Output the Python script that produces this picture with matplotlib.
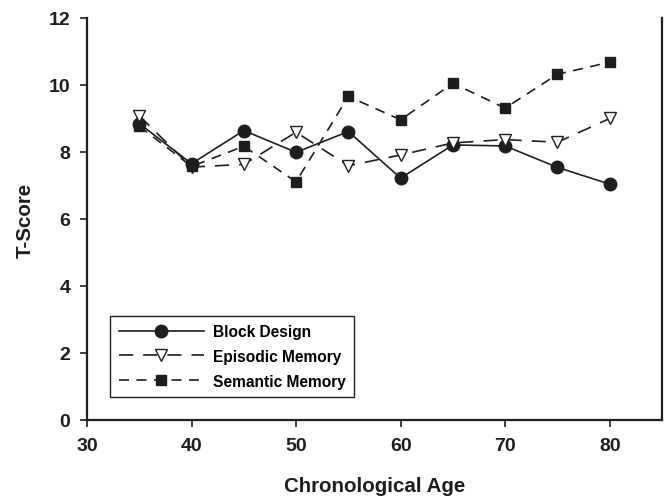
import matplotlib
matplotlib.use("Agg")
import matplotlib.pyplot as plt

plt.rcParams['font.family'] = ['Liberation Sans', 'DejaVu Sans']

ages = [35, 40, 45, 50, 55, 60, 65, 70, 75, 80]
block_design = [8.85, 7.65, 8.64, 7.99, 8.61, 7.22, 8.21, 8.18, 7.54, 7.04]
episodic_memory = [9.08, 7.55, 7.63, 8.59, 7.59, 7.91, 8.27, 8.37, 8.29, 9.0]
semantic_memory = [8.77, 7.57, 8.17, 7.11, 9.66, 8.96, 10.05, 9.31, 10.32, 10.68]

x_ticks = [30, 40, 50, 60, 70, 80]
y_ticks = [0, 2, 4, 6, 8, 10, 12]

ink = "#1e1e1e"

fig = plt.figure(figsize=(6.66, 5.02), dpi=100)
ax = fig.add_axes([0.1306, 0.1614, 0.8634, 0.8008])

ax.plot(ages, block_design, color=ink, lw=1.2, marker="o", ms=9,
        mfc=ink, mec=ink, label="Block Design")
ax.plot(ages, episodic_memory, color=ink, lw=1.2, dashes=(8.5, 6), marker="v", ms=9,
        mfc="white", mec=ink, mew=1.0, label="Episodic Memory")
ax.plot(ages, semantic_memory, color=ink, lw=1.2, dashes=(6, 4.5), marker="s", ms=7.5,
        mfc=ink, mec=ink, label="Semantic Memory")

ax.set_xlim(30, 85)
ax.set_ylim(0, 12)
ax.set_xticks(x_ticks)
ax.set_yticks(y_ticks)
ax.tick_params(direction="out", length=5, width=1.2, colors=ink,
               labelsize=14, pad=7)
for lab in ax.get_xticklabels() + ax.get_yticklabels():
    lab.set_fontweight("bold")

ax.spines["top"].set_visible(False)
for s in ["left", "bottom", "right"]:
    ax.spines[s].set_linewidth(1.6)
    ax.spines[s].set_color(ink)

ax.set_xlabel("Chronological Age", fontsize=14.8, fontweight="bold", color=ink, labelpad=16)
ax.set_ylabel("T-Score", fontsize=14.8, fontweight="bold", color=ink, labelpad=10)

leg = ax.legend(loc="lower left", bbox_to_anchor=(0.04, 0.057), borderaxespad=0,
                handlelength=5.5, fancybox=False, framealpha=1, edgecolor=ink,
                prop={"weight": "bold", "size": 11.2}, labelspacing=0.62,
                borderpad=0.55, handletextpad=0.55)
leg.get_frame().set_linewidth(1.0)

fig.savefig("out.png", dpi=100)
